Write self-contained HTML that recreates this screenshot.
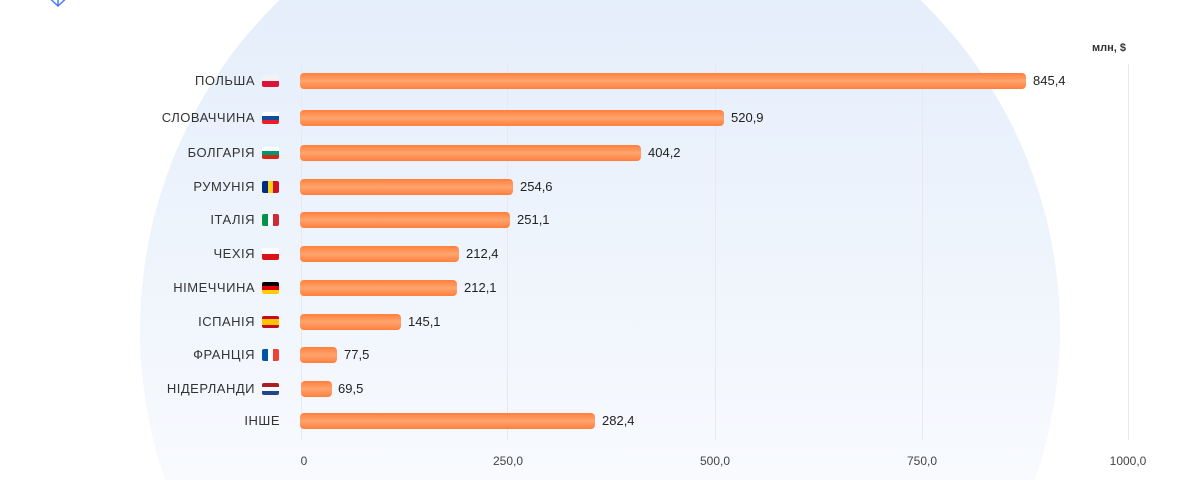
<!DOCTYPE html>
<html style="overflow:hidden;width:1200px;height:480px"><head><meta charset="utf-8"><style>
html,body{margin:0;width:1200px;height:480px;overflow:hidden;}
body{background:#fff;position:relative;font-family:"Liberation Sans",sans-serif;}
.wrap{position:absolute;left:0;top:0;width:1200px;height:480px;overflow:hidden;}
.grid{position:absolute;top:64px;height:376px;width:1px;background:#e6e9ee;}
.bar{position:absolute;left:300px;height:16px;border-radius:4px;background:linear-gradient(180deg,#ff7f3c 0%,#ffa46e 50%,#ff7f3c 100%);}
.val{position:absolute;font-size:13px;color:#222;}
.lab{position:absolute;font-size:13px;color:#333;letter-spacing:0.5px;text-align:right;white-space:nowrap;}
.flag{position:absolute;left:262px;width:17px;height:12px;border-radius:2px;overflow:hidden;}
.flag div{width:100%;}
.tick{position:absolute;top:454px;font-size:12px;color:#444;transform:translateX(-50%);}
</style></head><body><div class="wrap">
<svg style="position:absolute;left:0;top:0" width="1200" height="480" viewBox="0 0 1200 480"><defs><linearGradient id="g" x1="0" y1="0" x2="0" y2="480" gradientUnits="userSpaceOnUse"><stop offset="0" stop-color="#e5eefb"/><stop offset="0.5" stop-color="#eef4fc"/><stop offset="1" stop-color="#f8fafe"/></linearGradient></defs>
<rect x="0" y="0" width="1200" height="480" fill="#fff"/>
<circle cx="600" cy="330" r="460" fill="url(#g)"/>
<path d="M43 -8 L58 6 L73 -8 M58 6 L58 -8" stroke="#4a7ef0" stroke-width="1.5" fill="none"/></svg>
<div class="grid" style="left:301px"></div>
<div class="grid" style="left:507px"></div>
<div class="grid" style="left:715px"></div>
<div class="grid" style="left:922px"></div>
<div class="grid" style="left:1128px"></div>
<div class="val" style="left:1092px;top:42px;font-size:11px;font-weight:bold;color:#333">млн, $</div>

<div class="lab" style="top:73px;right:945px">ПОЛЬША</div><div class="flag" style="top:75px"><div style="height:6px;background:#f2f2f2"></div><div style="height:6px;background:#dc143c"></div></div>
<div class="bar" style="top:73px;width:726px"></div><div class="val" style="left:1033px;top:73px">845,4</div>

<div class="lab" style="top:110px;right:945px">СЛОВАЧЧИНА</div><div class="flag" style="top:112px"><div style="height:4px;background:#fff"></div><div style="height:4px;background:#0b4ea2"></div><div style="height:4px;background:#ee1c25"></div></div>
<div class="bar" style="top:110px;width:424px"></div><div class="val" style="left:731px;top:110px">520,9</div>

<div class="lab" style="top:145px;right:945px">БОЛГАРІЯ</div><div class="flag" style="top:147px"><div style="height:4px;background:#fff"></div><div style="height:4px;background:#00966e"></div><div style="height:4px;background:#d62612"></div></div>
<div class="bar" style="top:145px;width:341px"></div><div class="val" style="left:648px;top:145px">404,2</div>

<div class="lab" style="top:179px;right:945px">РУМУНІЯ</div><div class="flag" style="top:181px;display:flex"><div style="width:6px;background:#002b7f"></div><div style="width:5px;background:#fcd116"></div><div style="width:6px;background:#ce1126"></div></div>
<div class="bar" style="top:179px;width:213px"></div><div class="val" style="left:520px;top:179px">254,6</div>

<div class="lab" style="top:212px;right:945px">ІТАЛІЯ</div><div class="flag" style="top:214px;display:flex"><div style="width:6px;background:#009246"></div><div style="width:5px;background:#fff"></div><div style="width:6px;background:#ce2b37"></div></div>
<div class="bar" style="top:212px;width:210px"></div><div class="val" style="left:517px;top:212px">251,1</div>

<div class="lab" style="top:246px;right:945px">ЧЕХІЯ</div><div class="flag" style="top:248px"><div style="height:6px;background:#fff"></div><div style="height:6px;background:#d7141a"></div></div>
<div class="bar" style="top:246px;width:159px"></div><div class="val" style="left:466px;top:246px">212,4</div>

<div class="lab" style="top:280px;right:945px">НІМЕЧЧИНА</div><div class="flag" style="top:282px"><div style="height:4px;background:#000"></div><div style="height:4px;background:#dd0000"></div><div style="height:4px;background:#ffce00"></div></div>
<div class="bar" style="top:280px;width:157px"></div><div class="val" style="left:464px;top:280px">212,1</div>

<div class="lab" style="top:314px;right:945px">ІСПАНІЯ</div><div class="flag" style="top:316px"><div style="height:3px;background:#c60b1e"></div><div style="height:6px;background:#ffc400"></div><div style="height:3px;background:#c60b1e"></div></div>
<div class="bar" style="top:314px;width:101px"></div><div class="val" style="left:408px;top:314px">145,1</div>

<div class="lab" style="top:347px;right:945px">ФРАНЦІЯ</div><div class="flag" style="top:349px;display:flex"><div style="width:6px;background:#0055a4"></div><div style="width:5px;background:#fff"></div><div style="width:6px;background:#ef4135"></div></div>
<div class="bar" style="top:347px;width:37px"></div><div class="val" style="left:344px;top:347px">77,5</div>

<div class="lab" style="top:381px;right:945px">НІДЕРЛАНДИ</div><div class="flag" style="top:383px"><div style="height:4px;background:#ae1c28"></div><div style="height:4px;background:#fff"></div><div style="height:4px;background:#21468b"></div></div>
<div class="bar" style="top:381px;left:301px;width:31px"></div><div class="val" style="left:338px;top:381px">69,5</div>

<div class="lab" style="top:413px;right:920px">ІНШЕ</div>
<div class="bar" style="top:413px;width:295px"></div><div class="val" style="left:602px;top:413px">282,4</div>

<div class="tick" style="left:304px">0</div>
<div class="tick" style="left:508px">250,0</div>
<div class="tick" style="left:715px">500,0</div>
<div class="tick" style="left:922px">750,0</div>
<div class="tick" style="left:1128px">1000,0</div>
</div></body></html>
